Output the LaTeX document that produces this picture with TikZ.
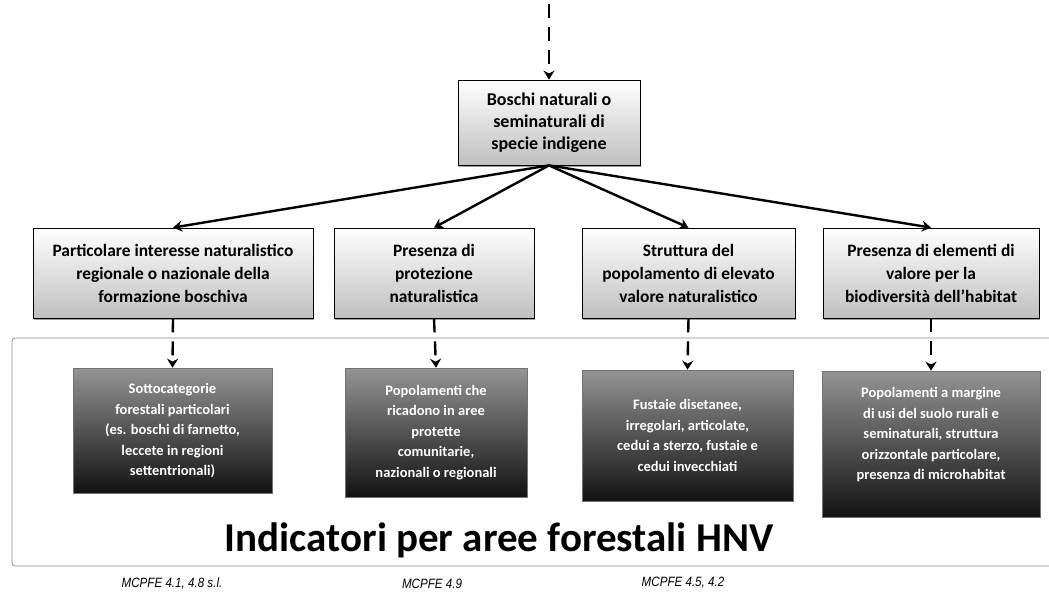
\documentclass[tikz,border=0pt]{standalone}
\usepackage{fontspec}
\setmainfont{Carlito}
\newfontfamily\mcpfefont{Liberation Sans}[FakeStretch=0.86]
\usetikzlibrary{arrows.meta,shadows}

\tikzset{
  chiara/.style={draw=black, line width=0.8pt, top color=white, bottom color=black!25,
    drop shadow={shadow xshift=1pt, shadow yshift=-1.5pt, fill=black!75},
    align=center, inner sep=0pt, font=\bfseries\fontsize{17.4}{23}\selectfont},
  scura/.style={draw=black!55, line width=0.6pt, top color=black!42, bottom color=black!93,
    text=white, align=center, inner sep=0pt, font=\bfseries\fontsize{14.5}{20.5}\selectfont},
  freccia/.style={-{Stealth[length=9pt,width=11pt]}, line width=2.4pt},
  tratteggio/.style={dash pattern=on 14pt off 9pt},
  sigla/.style={font=\mcpfefont\itshape\fontsize{13.5}{15}\selectfont},
}

\begin{document}
\begin{tikzpicture}[x=1pt, y=-1pt, line cap=butt]

\useasboundingbox (0,0) rectangle (1049,598);

% Cornice indicatori
\node[draw=black!45, line width=0.8pt, rounded corners=3pt, minimum width=1045pt,
  minimum height=228pt, inner sep=0pt] (cornice) at (534.5,452) {};

% Nodo iniziale
\coordinate (ingresso) at (549,4);
\node[chiara, minimum width=182pt, minimum height=85pt,
  font=\bfseries\fontsize{18}{22}\selectfont] (boschi) at (549,122.5)
  {Boschi naturali o\\seminaturali di\\specie indigene};

% Criteri
\node[chiara, minimum width=280pt, minimum height=90pt] (interesse) at (173,273)
  {Particolare interesse naturalistico\\regionale o nazionale della\\formazione boschiva};
\node[chiara, minimum width=200pt, minimum height=90pt] (protezione) at (434,273)
  {Presenza di\\protezione\\naturalistica};
\node[chiara, minimum width=213pt, minimum height=90pt] (struttura) at (688.5,273)
  {Struttura del\\popolamento di elevato\\valore naturalistico};
\node[chiara, minimum width=216pt, minimum height=90pt] (elementi) at (931,273)
  {Presenza di elementi di\\valore per la\\biodiversità dell'habitat};

% Indicatori
\node[scura, minimum width=199pt, minimum height=125pt] (sottocat) at (172.5,430.5)
  {Sottocategorie\\forestali particolari\\(es. boschi di farnetto,\\leccete in regioni\\settentrionali)};
\node[scura, minimum width=182pt, minimum height=129pt] (protette) at (436,432.5)
  {Popolamenti che\\ricadono in aree\\protette\\comunitarie,\\nazionali o regionali};
\node[scura, minimum width=211pt, minimum height=131pt] (fustaie) at (687.5,435.5)
  {Fustaie disetanee,\\irregolari, articolate,\\cedui a sterzo, fustaie e\\cedui invecchiati};
\node[scura, minimum width=218pt, minimum height=146pt] (margine) at (931,444)
  {Popolamenti a margine\\di usi del suolo rurali e\\seminaturali, struttura\\orizzontale particolare,\\presenza di microhabitat\\ \mbox{}};

% Titolo
\node[font=\bfseries\fontsize{41}{45}\selectfont] (titolo) at (499,540)
  {Indicatori per aree forestali HNV};

% Sigle MCPFE
\node[sigla] (sigla1) at (172,583) {MCPFE 4.1, 4.8 s.l.};
\node[sigla] (sigla2) at (432,584) {MCPFE 4.9};
\node[sigla] (sigla3) at (683,583) {MCPFE 4.5, 4.2};

% Frecce
\draw[freccia, tratteggio] (ingresso) -- (boschi.north);
\foreach \n in {interesse, protezione, struttura, elementi}
  \draw[freccia] (boschi.south) -- (\n.north);
\draw[freccia, tratteggio] (interesse.south) -- (sottocat.north);
\draw[freccia, tratteggio] (protezione.south) -- (protette.north);
\draw[freccia, tratteggio] (struttura.south) -- (fustaie.north);
\draw[freccia, tratteggio] (elementi.south) -- (margine.north);

\end{tikzpicture}
\end{document}
